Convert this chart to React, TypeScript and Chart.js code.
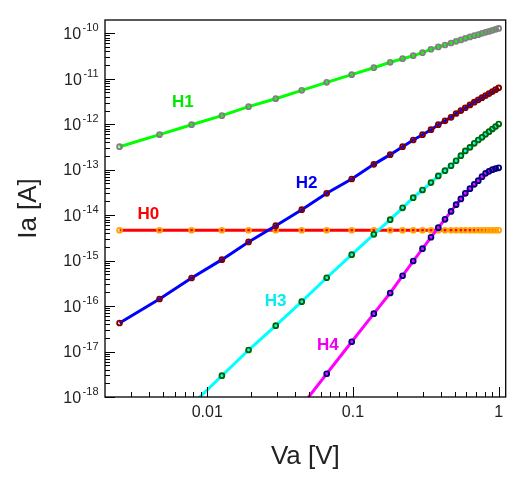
import { useEffect, useRef } from "react";
import { Chart, registerables } from "chart.js";

Chart.register(...registerables);

// ---------- data ----------
const voltages = [
  0.0025, 0.0047, 0.0078, 0.0126, 0.0192, 0.0295, 0.0445, 0.066, 0.098, 0.139,
  0.18, 0.219, 0.259, 0.3, 0.343, 0.385, 0.428, 0.471, 0.51, 0.55,
  0.59, 0.635, 0.68, 0.724, 0.768, 0.813, 0.858, 0.905, 0.952, 1.0,
];

const currentH0 = [
  4.65e-15, 4.65e-15, 4.65e-15, 4.65e-15, 4.65e-15, 4.65e-15, 4.65e-15, 4.65e-15, 4.65e-15, 4.65e-15,
  4.65e-15, 4.65e-15, 4.65e-15, 4.65e-15, 4.65e-15, 4.65e-15, 4.65e-15, 4.65e-15, 4.65e-15, 4.65e-15,
  4.65e-15, 4.65e-15, 4.65e-15, 4.65e-15, 4.65e-15, 4.65e-15, 4.65e-15, 4.65e-15, 4.65e-15, 4.65e-15,
];

const currentH1 = [
  3.2e-13, 5.9e-13, 9.75e-13, 1.54e-12, 2.43e-12, 3.64e-12, 5.57e-12, 8.35e-12, 1.23e-11, 1.75e-11,
  2.3e-11, 2.76e-11, 3.21e-11, 3.74e-11, 4.45e-11, 5.0e-11, 5.53e-11, 6.12e-11, 6.67e-11, 7.13e-11,
  7.76e-11, 8.3e-11, 8.86e-11, 9.3e-11, 1.0e-10, 1.05e-10, 1.1e-10, 1.16e-10, 1.22e-10, 1.28e-10,
];

const currentH2 = [
  4.24e-17, 1.43e-16, 4.14e-16, 1.05e-15, 2.57e-15, 5.86e-15, 1.32e-14, 3.02e-14, 6.24e-14, 1.31e-13,
  2.14e-13, 3.21e-13, 4.5e-13, 5.88e-13, 7.57e-13, 9.75e-13, 1.19e-12, 1.42e-12, 1.72e-12, 2.0e-12,
  2.3e-12, 2.66e-12, 3.05e-12, 3.44e-12, 3.84e-12, 4.27e-12, 4.73e-12, 5.22e-12, 5.75e-12, 6.3e-12,
];

const currentH3 = [
  2e-20, 1.5e-19, 6.7e-19, 2.94e-18, 1.08e-17, 3.7e-17, 1.25e-16, 4.2e-16, 1.35e-15, 3.79e-15,
  7.94e-15, 1.45e-14, 2.42e-14, 3.57e-14, 5.2e-14, 7.27e-14, 9.5e-14, 1.22e-13, 1.57e-13, 2.03e-13,
  2.58e-13, 3.1e-13, 3.8e-13, 4.5e-13, 5.15e-13, 6.0e-13, 6.84e-13, 7.85e-13, 8.9e-13, 1.01e-12,
];

const currentH4 = [
  5e-23, 5e-22, 3e-21, 1.3e-20, 4e-20, 1.4e-19, 6.4e-19, 3.25e-18, 1.64e-17, 6.8e-17,
  1.94e-16, 4.65e-16, 9.8e-16, 1.83e-15, 3.26e-15, 5.3e-15, 8.1e-15, 1.21e-14, 1.7e-14, 2.27e-14,
  3.02e-14, 3.82e-14, 4.77e-14, 5.73e-14, 7.0e-14, 8.3e-14, 9.2e-14, 1.0e-13, 1.06e-13, 1.1e-13,
];

const seriesNames = ["H0", "H1", "H2", "H3", "H4"];
const lineColors = ["#ff0000", "#00ff00", "#0000ff", "#00ffff", "#ff00ff"];
const markerColors = ["#ffa500", "#808080", "#800000", "#006400", "#000080"];
const nameColors = ["#ff0000", "#00e600", "#0000ee", "#00eeee", "#ee00ee"];
const nameAnchorX = [0.00394, 0.00679, 0.048, 0.0294, 0.0671];
const nameAnchorY = [1.03e-14, 3.05e-12, 4.92e-14, 1.29e-16, 1.39e-17];

const xTickValues = [0.01, 0.1, 1];
const xTickLabels = ["0.01", "0.1", "1"];
const yTickValues = [1e-18, 1e-17, 1e-16, 1e-15, 1e-14, 1e-13, 1e-12, 1e-11, 1e-10];
const yTickExponents = ["-18", "-17", "-16", "-15", "-14", "-13", "-12", "-11", "-10"];

const xMin = 0.001986;
const xMax = 1.117;
const yMin = 1e-18;
const yMax = 1.96e-10;

const FONT = '"Liberation Sans", Arial, sans-serif';
const TEXT = "#222222";

const decorPlugin = {
  id: "decor",
  afterDatasetsDraw(chart: any) {
    const { ctx, chartArea: a, scales } = chart;
    const xs = scales.x;
    const ys = scales.y;
    ctx.save();
    // frame
    ctx.strokeStyle = "#000";
    ctx.lineWidth = 1.3;
    ctx.strokeRect(a.left, a.top, a.right - a.left, a.bottom - a.top);

    ctx.lineWidth = 1;
    ctx.beginPath();
    // y ticks (inward, left side)
    for (let d = 0; d < yTickValues.length; d++) {
      for (let k = 1; k <= 9; k++) {
        const v = yTickValues[d] * k;
        const py = ys.getPixelForValue(v);
        if (py < a.top + 0.5 || py > a.bottom + 0.5) continue;
        const len = k === 1 ? 10 : 5;
        const yy = Math.round(py) + 0.5;
        ctx.moveTo(a.left, yy);
        ctx.lineTo(a.left + len, yy);
      }
    }
    // x ticks (inward, bottom side)
    const xDecades = [0.001, 0.01, 0.1, 1];
    for (let d = 0; d < xDecades.length; d++) {
      for (let k = 1; k <= 9; k++) {
        const v = xDecades[d] * k;
        const px = xs.getPixelForValue(v);
        if (px < a.left + 1 || px > a.right - 0.5) continue;
        const len = k === 1 ? 10 : 5;
        const xx = Math.round(px) + 0.5;
        ctx.moveTo(xx, a.bottom);
        ctx.lineTo(xx, a.bottom - len);
      }
    }
    ctx.stroke();

    // x tick labels
    ctx.fillStyle = TEXT;
    ctx.font = `16px ${FONT}`;
    ctx.textAlign = "center";
    ctx.textBaseline = "alphabetic";
    xTickValues.forEach((v, i) => {
      const px = xs.getPixelForValue(v);
      ctx.fillText(xTickLabels[i], px, a.bottom + 19.5);
    });

    // y tick labels with superscript exponent
    ctx.textAlign = "left";
    yTickValues.forEach((v, i) => {
      const py = ys.getPixelForValue(v);
      ctx.font = `11px ${FONT}`;
      const ew = ctx.measureText(yTickExponents[i]).width;
      ctx.font = `16px ${FONT}`;
      const bw = ctx.measureText("10").width;
      const right = a.left - 6.5;
      const ex = right - ew;
      ctx.fillText("10", ex - 1.5 - bw, py + 5.8);
      ctx.font = `11px ${FONT}`;
      ctx.fillText(yTickExponents[i], ex, py - 2);
    });

    // series names
    ctx.font = `bold 17px ${FONT}`;
    ctx.textAlign = "center";
    ctx.textBaseline = "middle";
    seriesNames.forEach((n, i) => {
      ctx.fillStyle = nameColors[i];
      ctx.fillText(n, xs.getPixelForValue(nameAnchorX[i]), ys.getPixelForValue(nameAnchorY[i]));
    });
    ctx.restore();
  },
};

const seriesValues = [currentH0, currentH1, currentH2, currentH3, currentH4];

export default function App() {
  const canvasRef = useRef<HTMLCanvasElement | null>(null);

  useEffect(() => {
    document.body.style.margin = "0";
    const canvas = canvasRef.current;
    if (!canvas) return;
    const order = [1, 2, 3, 4, 0];
    const datasets = order.map((si) => ({
      label: seriesNames[si],
      data: voltages.map((v, j) => ({ x: v, y: seriesValues[si][j] })),
      borderColor: lineColors[si],
      backgroundColor: lineColors[si],
      borderWidth: 3,
      tension: 0,
      fill: false,
      pointRadius: 2.4,
      pointBorderWidth: 1.9,
      pointBorderColor: markerColors[si],
      pointBackgroundColor: "rgba(0,0,0,0)",
      pointStyle: "circle",
      clip: 0,
    }));

    const chart = new Chart(canvas, {
      type: "line",
      data: { datasets },
      options: {
        animation: false,
        responsive: false,
        devicePixelRatio: 1,
        layout: { padding: { top: 20, right: 19.3, left: 0, bottom: 0 } },
        plugins: {
          legend: { display: false },
          tooltip: { enabled: false },
        },
        scales: {
          x: {
            type: "logarithmic",
            min: xMin,
            max: xMax,
            grid: { display: false },
            border: { display: false },
            ticks: { display: false },
            title: {
              display: true,
              text: "Va [V]",
              color: TEXT,
              font: { family: FONT, size: 26 },
              padding: { top: 0, bottom: 10.4 },
            },
            afterFit: (s: any) => {
              s.height = 86;
            },
          },
          y: {
            type: "logarithmic",
            min: yMin,
            max: yMax,
            grid: { display: false },
            border: { display: false },
            ticks: { display: false },
            title: {
              display: true,
              text: "Ia [A]",
              color: TEXT,
              font: { family: FONT, size: 26 },
              padding: { top: 13.4, bottom: 0 },
            },
            afterFit: (s: any) => {
              s.width = 105;
            },
          },
        },
      } as any,
      plugins: [decorPlugin],
    });
    return () => chart.destroy();
  }, []);

  return (
    <div style={{ width: 525, height: 483 }}>
      <canvas ref={canvasRef} width={525} height={483} style={{ display: "block" }} />
    </div>
  );
}
